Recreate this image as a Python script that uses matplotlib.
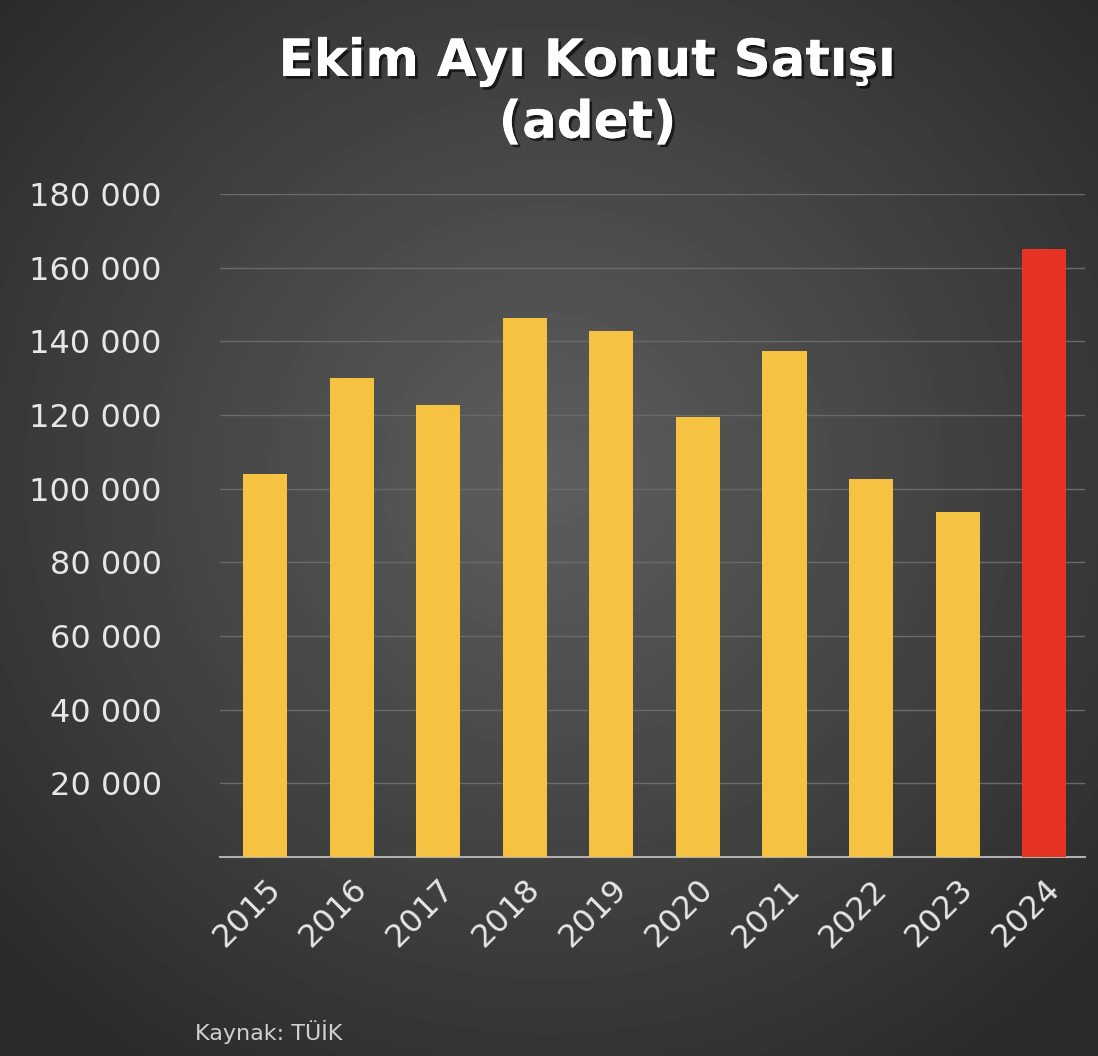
import matplotlib
matplotlib.use("Agg")
import matplotlib.pyplot as plt
import numpy as np
import matplotlib.patheffects as pe

years = ["2015","2016","2017","2018","2019","2020","2021","2022","2023","2024"]
sales = [104000,130000,122700,146300,142800,119500,137400,102600,93700,165100]
colors = ["#f5c242"]*9 + ["#e63323"]
yticks = [20000,40000,60000,80000,100000,120000,140000,160000,180000]
ytick_labels = ["20 000","40 000","60 000","80 000","100 000","120 000","140 000","160 000","180 000"]

fig = plt.figure(figsize=(10.98,10.56), dpi=100)
bg = fig.add_axes([0,0,1,1], zorder=-10)
yy, xx = np.mgrid[-1:1:300j, -1:1:300j]
r = np.sqrt(xx**2 + (yy+0.1)**2)
g = np.clip(0.37 - 0.15*r, 0.17, 0.37)
bg.imshow(g, cmap="gray", vmin=0, vmax=1, extent=[0,1,0,1], aspect="auto")
bg.axis("off")

ax = fig.add_axes([220/1098, 1-857/1056, (1085-220)/1098, (857-194)/1056])
ax.patch.set_alpha(0)
x = np.arange(len(years))
ax.bar(x, sales, width=0.51, color=colors, zorder=3)
ax.set_xlim(-0.52, 9.47)
ax.set_ylim(0, 180000)
ax.set_yticks(yticks)
ax.set_yticklabels(ytick_labels, color="#e6e6e6", fontsize=23)
ax.set_xticks(x)
ax.set_xticklabels(years, rotation=45, ha="right", rotation_mode="anchor", color="#e6e6e6", fontsize=23)
ax.grid(axis="y", color="#6a6a6a", linewidth=1, zorder=0)
for s in ["top","right","left"]:
    ax.spines[s].set_visible(False)
ax.spines["bottom"].set_color("#b0b0b0")
ax.spines["bottom"].set_linewidth(1.5)
ax.tick_params(length=0, pad=12)
ax.tick_params(axis="y", pad=42)

fig.text(0.535, 0.965, "Ekim Ayı Konut Satışı\n(adet)", ha="center", va="top", color="white",
         fontsize=37, fontweight="bold", linespacing=1.3,
         path_effects=[pe.withSimplePatchShadow(offset=(2,-2), shadow_rgbFace="black", alpha=0.6), pe.Normal()])
fig.text(195/1098, 1-1032/1056, "Kaynak: TÜİK", color="#d0d0d0", fontsize=16, va="center")
fig.savefig("out.png", dpi=100)
